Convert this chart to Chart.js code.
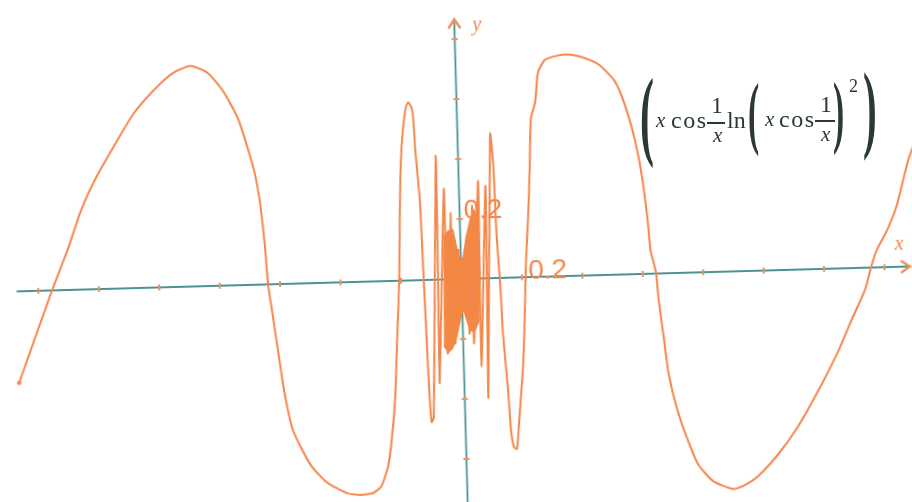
<!DOCTYPE html>
<html>
<head>
<meta charset="utf-8">
<script src="https://cdn.jsdelivr.net/npm/chart.js@4.4.1/dist/chart.umd.min.js"></script>
<style>
html, body { margin: 0; padding: 0; background: #fff; }
body { width: 912px; height: 502px; overflow: hidden; position: relative; }
#plot { position: absolute; left: 3.6px; top: 5.2px; width: 927px; height: 512px;
        transform-origin: 457.4px 274.3px; transform: rotate(-1.6deg); }
#formula { position: absolute; left: 0; top: 0; color: #2b3a31;
           font-family: "Liberation Serif", "DejaVu Serif", serif; }
#formula span { position: absolute; line-height: 1; white-space: nowrap; font-size: 24px; }
#formula .bar { height: 1.5px; background: #2b3a31; }
#formula .paren { font-weight: bold; transform-origin: 0 0; }
#formula .v { font-style: italic; font-size: 21px; }
</style>
</head>
<body>
<div id="plot"><canvas id="chart" width="927" height="512"></canvas></div>

<div id="formula">
  <span class="paren" style="left:640px;top:63.7px;font-size:100px;transform:scaleX(0.42)">(</span>
  <span class="v" style="left:656px;top:110px">x</span>
  <span style="left:671px;top:108px;letter-spacing:1.5px">cos</span>
  <span style="left:711px;top:93px">1</span>
  <span class="bar" style="left:707px;top:122px;width:18px"></span>
  <span class="v" style="left:713px;top:125px">x</span>
  <span style="left:727px;top:108px">ln</span>
  <span class="paren" style="left:748px;top:71.5px;font-size:80px;transform:scaleX(0.42)">(</span>
  <span class="v" style="left:765px;top:109px">x</span>
  <span style="left:779px;top:107px;letter-spacing:1.5px">cos</span>
  <span style="left:820px;top:92px">1</span>
  <span class="bar" style="left:815px;top:120px;width:20px"></span>
  <span class="v" style="left:821px;top:124px">x</span>
  <span class="paren" style="left:833px;top:70.5px;font-size:80px;transform:scaleX(0.42)">)</span>
  <span style="left:849px;top:77px;font-size:18px">2</span>
  <span class="paren" style="left:863px;top:57.9px;font-size:98px;transform:scaleX(0.42)">)</span>
</div>

<script>
// curve (x in units of the x axis, y in units of the y axis)
const curveX = [
  -0.736, -0.678, -0.648, -0.626, -0.599, -0.564, -0.535, -0.501, -0.467, -0.438,
  -0.410, -0.386, -0.363, -0.348, -0.336, -0.329, -0.323, -0.320, -0.315, -0.307,
  -0.299, -0.287, -0.272, -0.256, -0.232, -0.200, -0.176, -0.156, -0.142, -0.130,
  -0.122, -0.115, -0.109, -0.103, -0.099, -0.095, -0.090, -0.084, -0.080, -0.076,
  -0.073, -0.070, -0.065, -0.063, -0.061, -0.059, -0.056, -0.052, -0.037, -0.038,
  -0.041, -0.034, -0.025, -0.025, -0.026, -0.022, -0.015, -0.016, -0.013, -0.004,
  0.000, 0.010, 0.011, 0.021, 0.018, 0.032, 0.029, 0.044, 0.039, 0.054,
  0.058, 0.060, 0.064, 0.066, 0.072, 0.075, 0.079, 0.084, 0.090, 0.098,
  0.103, 0.107, 0.113, 0.118, 0.122, 0.130, 0.136, 0.148, 0.173, 0.197,
  0.222, 0.238, 0.262, 0.277, 0.292, 0.302, 0.310, 0.314, 0.322, 0.325,
  0.332, 0.338, 0.350, 0.365, 0.383, 0.407, 0.439, 0.456, 0.481, 0.515,
  0.549, 0.583, 0.618, 0.644, 0.667, 0.678, 0.688, 0.706, 0.723, 0.745, 0.763
];
const curveY = [
  -0.305, -0.003, 0.143, 0.263, 0.373, 0.489, 0.580, 0.656, 0.714, 0.735,
  0.710, 0.650, 0.560, 0.461, 0.362, 0.263, 0.115, 0.000, -0.082, -0.214,
  -0.346, -0.478, -0.551, -0.611, -0.665, -0.702, -0.710, -0.705, -0.683, -0.618,
  -0.520, -0.389, -0.192, -0.002, 0.217, 0.391, 0.502, 0.577, 0.593, 0.583,
  0.560, 0.422, 0.258, 0.061, -0.123, -0.320, -0.474, -0.458, 0.411, 0.099,
  -0.344, -0.065, 0.302, 0.065, -0.246, -0.066, 0.222, -0.066, -0.214, 0.097,
  -0.084, 0.129, -0.183, 0.243, -0.216, 0.325, -0.292, 0.308, -0.398, 0.481,
  0.366, 0.149, -0.028, -0.179, -0.376, -0.508, -0.564, -0.571, -0.456, -0.293,
  -0.129, 0.035, 0.199, 0.363, 0.526, 0.582, 0.680, 0.722, 0.737, 0.735,
  0.718, 0.700, 0.647, 0.573, 0.458, 0.342, 0.194, 0.079, 0.003, -0.085,
  -0.217, -0.332, -0.448, -0.547, -0.640, -0.697, -0.725, -0.716, -0.685, -0.615,
  -0.525, -0.412, -0.282, -0.169, -0.072, 0.003, 0.058, 0.123, 0.204, 0.360, 0.448
];

// outline of the dense oscillating core near the origin
const coreX = [-0.028, -0.020, -0.012, -0.007, -0.001, 0.004, 0.010, 0.017, 0.024, 0.031,
               0.027, 0.019, 0.012, 0.006, 0.002, -0.003, -0.011, -0.018, -0.025, -0.032];
const coreY = [0.140, 0.160, 0.165, 0.108, 0.060, 0.072, 0.140, 0.195, 0.228, 0.185,
               -0.140, -0.178, -0.170, -0.130, -0.098, -0.130, -0.196, -0.230, -0.243, -0.220];

// axes
const xTicks = [-0.7, -0.6, -0.5, -0.4, -0.3, -0.2, -0.1, 0.1, 0.2, 0.3, 0.4, 0.5, 0.6, 0.7];
const yTicks = [-0.6, -0.4, -0.2, 0.2, 0.4, 0.6, 0.8];
const xLabelValue = 0.2, xLabelText = "0.2";
const yLabelValue = 0.2, yLabelText = "0.2";
const xAxisSpan = [-0.736, 0.742];
const yAxisSpan = [-0.78, 0.866];
const xRange = [-0.75, 0.77];
const yRange = [-0.78, 0.9];

const CURVE_COLOR = "#f4864a";
const CORE_COLOR = "#f38a3e";
const AXIS_COLOR = "#4c9494";
const MARK_COLOR = "#f3905a";

const toPoints = (xs, ys) => xs.map((v, i) => ({ x: v, y: ys[i] }));

const guides = {
    id: "guides",
    beforeDatasetsDraw(chart) {
        const { ctx, scales: { x, y } } = chart;
        const ox = x.getPixelForValue(0);
        const oy = y.getPixelForValue(0);
        ctx.save();

        ctx.strokeStyle = AXIS_COLOR;
        ctx.lineWidth = 1.8;
        ctx.beginPath();
        ctx.moveTo(x.getPixelForValue(xAxisSpan[0]), oy);
        ctx.lineTo(x.getPixelForValue(xAxisSpan[1]), oy);
        ctx.moveTo(ox, y.getPixelForValue(yAxisSpan[1]));
        ctx.lineTo(ox, y.getPixelForValue(yAxisSpan[0]));
        ctx.stroke();

        ctx.strokeStyle = MARK_COLOR;
        ctx.lineWidth = 2;
        ctx.beginPath();
        xTicks.forEach(v => {
            const px = x.getPixelForValue(v);
            ctx.moveTo(px, oy - 3);
            ctx.lineTo(px, oy + 3);
        });
        yTicks.forEach(v => {
            const py = y.getPixelForValue(v);
            ctx.moveTo(ox - 3, py);
            ctx.lineTo(ox + 3, py);
        });
        ctx.stroke();

        // arrow heads
        const ax = x.getPixelForValue(xAxisSpan[1]);
        const ay = y.getPixelForValue(yAxisSpan[1]);
        ctx.lineWidth = 2.5;
        ctx.beginPath();
        ctx.moveTo(ax - 9, oy - 6); ctx.lineTo(ax, oy); ctx.lineTo(ax - 9, oy + 6);
        ctx.moveTo(ox - 6, ay + 9); ctx.lineTo(ox, ay); ctx.lineTo(ox + 6, ay + 9);
        ctx.stroke();

        ctx.fillStyle = CURVE_COLOR;
        ctx.font = '28px "Liberation Sans"';
        ctx.textBaseline = "alphabetic";
        ctx.textAlign = "right";
        ctx.fillText(xLabelText, x.getPixelForValue(xLabelValue) - 15, oy + 2);
        ctx.textAlign = "left";
        ctx.fillText(yLabelText, ox + 4, y.getPixelForValue(yLabelValue));

        ctx.font = 'italic 20px "Liberation Serif"';
        ctx.fillText("x", x.getPixelForValue(0.718), oy - 17);
        ctx.fillText("y", ox + 18, y.getPixelForValue(0.827));
        ctx.restore();
    }
};

new Chart(document.getElementById("chart"), {
    type: "line",
    data: {
        datasets: [
            {
                data: toPoints(curveX, curveY),
                borderColor: CURVE_COLOR,
                backgroundColor: CURVE_COLOR,
                borderWidth: 2,
                pointRadius: curveX.map((_, i) => i === 0 ? 2.2 : 0),
                pointBorderWidth: 0,
                tension: 0.2,
                fill: false,
                order: 1
            },
            {
                data: toPoints(coreX, coreY),
                borderColor: CURVE_COLOR,
                backgroundColor: CORE_COLOR,
                borderWidth: 1.5,
                pointRadius: 0,
                tension: 0,
                fill: "shape",
                order: 2
            }
        ]
    },
    options: {
        responsive: false,
        animation: false,
        layout: { padding: 0 },
        plugins: {
            legend: { display: false },
            tooltip: { enabled: false }
        },
        scales: {
            x: { type: "linear", min: xRange[0], max: xRange[1], display: false },
            y: { type: "linear", min: yRange[0], max: yRange[1], display: false }
        }
    },
    plugins: [guides]
});
</script>
</body>
</html>
